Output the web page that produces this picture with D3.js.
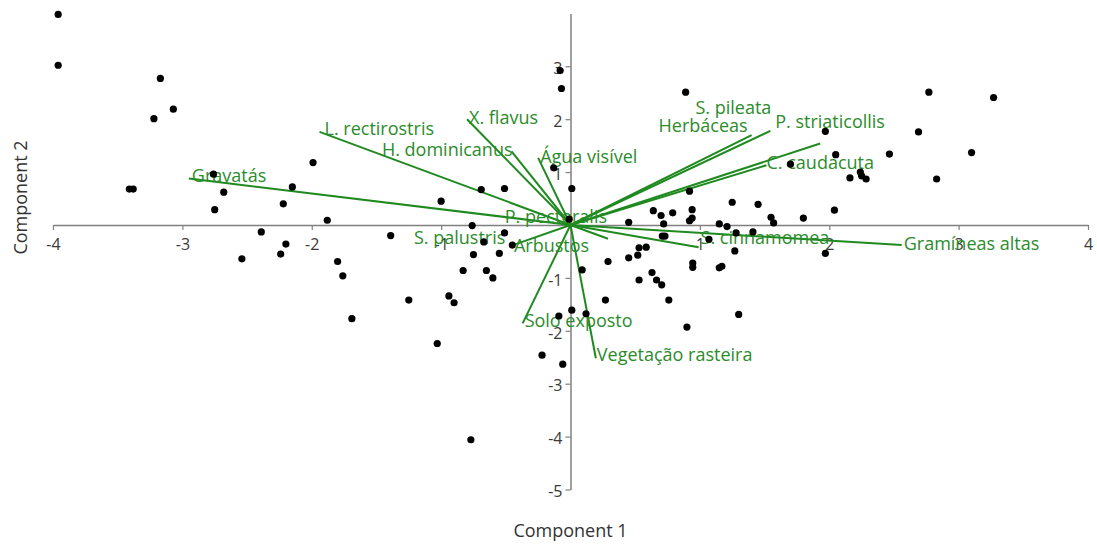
<!DOCTYPE html>
<html>
<head>
<meta charset="utf-8">
<script src="https://cdn.jsdelivr.net/npm/d3@7"></script>
<style>
  body { margin: 0; background: #fff; }
  svg { display: block; font-family: "Open Sans", "Noto Sans", sans-serif; }
</style>
</head>
<body>
<svg id="biplot" width="1097" height="545"></svg>
<script>
// PCA scores (component 1, component 2)
const scoresX = [
  -3.96, -3.96, -3.17, -3.07, -3.22, -3.41, -3.38, -2.76, -2.68, -2.75,
  -1.99, -2.15, -2.22, -1.88, -2.39, -2.20, -2.24, -2.54, -1.80, -1.76,
  -1.69, -1.25, -0.94, -0.90, -1.03, -0.77, -1.39, -1.00, -0.76, -0.69,
  -0.51, -0.51, -0.67, -0.45, -0.55, -0.75, -0.83, -0.65, -0.60,
  -0.08, -0.07, -0.13, 0.01, -0.01, 0.09, 0.01, -0.09, 0.12, -0.22, -0.06,
  0.45, 0.64, 0.70, 0.79, 0.72, 0.71, 0.73, 0.53, 0.585, 0.52,
  0.45, 0.29, 0.63, 0.53, 0.665, 0.705, 0.27, 0.76, 1.30, 0.90,
  0.945, 0.945, 1.15, 1.17, 1.07, 1.27, 1.97, 1.28, 1.41, 1.15, 1.21,
  0.89, 0.92, 0.94, 0.94, 0.92, 1.25, 1.45, 1.55, 1.57, 1.80,
  2.04, 1.70, 2.05, 2.465, 3.10, 2.16, 2.24, 2.25, 2.285, 2.83,
  1.97, 2.69, 2.77, 3.27
];
const scoresY = [
  3.98, 3.02, 2.77, 2.19, 2.01, 0.68, 0.68, 0.96, 0.62, 0.29,
  1.18, 0.72, 0.40, 0.09, -0.13, -0.36, -0.55, -0.64, -0.69, -0.96,
  -1.77, -1.42, -1.34, -1.47, -2.24, -4.06, -0.20, 0.45, -0.01, 0.67,
  0.69, -0.15, -0.32, -0.38, -0.535, -0.56, -0.86, -0.86, -1.00,
  2.92, 2.58, 1.08, 0.69, 0.11, -0.85, -1.61, -1.72, -1.68, -2.46, -2.63,
  0.05, 0.27, 0.18, 0.23, 0.02, -0.21, -0.21, -0.43, -0.42, -0.57,
  -0.62, -0.69, -0.90, -1.04, -1.04, -1.13, -1.42, -1.42, -1.69, -1.93,
  -0.72, -0.80, -0.81, -0.78, -0.27, -0.49, -0.535, -0.15, -0.13, 0.02, -0.03,
  2.51, 0.64, 0.29, 0.13, 0.08, 0.43, 0.39, 0.145, 0.04, 0.13,
  0.28, 1.15, 1.33, 1.34, 1.37, 0.89, 1.00, 0.93, 0.87, 0.87,
  1.77, 1.76, 2.51, 2.41
];

// loadings (biplot vectors)
const loadingNames = [
  'Gravatás', 'L. rectirostris', 'X. flavus', 'H. dominicanus', 'Água visível',
  'Herbáceas', 'S. pileata', 'P. striaticollis', 'C. caudacuta', 'P. pectoralis',
  'S. cinnamomea', 'Gramíneas altas', 'Arbustos', 'S. palustris',
  'Solo exposto', 'Vegetação rasteira'
];
const loadingX = [-2.95, -1.94, -0.80, -0.456, -0.25, 1.40, 1.545, 1.93, 1.515, 0.29,
  0.99, 2.56, -0.445, -0.04, -0.37, 0.196];
const loadingY = [0.88, 1.76, 2.00, 1.39, 1.27, 1.70, 1.78, 1.54, 1.13, -0.26,
  -0.42, -0.38, -0.38, -0.02, -1.86, -2.52];

const xTicks = [-4, -3, -2, -1, 1, 2, 3, 4];
const yTicks = [3, 2, 1, -1, -2, -3, -4, -5];
const xTitle = 'Component 1';
const yTitle = 'Component 2';

// label placement relative to vector tips (px)
const labelNudge = {
  'Gravatás': {dx: 3, dy: -3},
  'L. rectirostris': {dx: 5, dy: -4},
  'H. dominicanus': {dx: 1, dy: -2, anchor: 'end'},
  'Herbáceas': {dx: -4, dy: -10, anchor: 'end'},
  'S. pileata': {dx: 1, dy: -24, anchor: 'end'},
  'P. striaticollis': {dx: -45, dy: -23},
  'C. caudacuta': {dx: 0, dy: -3},
  'P. pectoralis': {dx: -1, dy: -23, anchor: 'end'},
  'S. cinnamomea': {dx: 2, dy: -10},
  'Arbustos': {dx: 1, dy: 0},
  'S. palustris': {dx: -60, dy: 11, anchor: 'end'},
  'Solo exposto': {dx: 2, dy: -3},
  'Vegetação rasteira': {dx: 1, dy: -4}
};

const green = '#1f8a1f';
const axisGrey = '#808080';

const svg = d3.select('#biplot');
const x = d3.scaleLinear().domain([-4, 4]).range([53, 1088]);
const y = d3.scaleLinear().domain([-5, 4]).range([489.5, 13.4]);

// axes crossing at the origin, plain hyphen for negatives
const fmt = d => String(d);
const xAxis = d3.axisBottom(x).tickValues(xTicks).tickFormat(fmt)
  .tickSize(5).tickSizeOuter(0).tickPadding(9);
const yAxis = d3.axisLeft(y).tickValues(yTicks).tickFormat(fmt)
  .tickSize(5).tickSizeOuter(0).tickPadding(3);

const gx = svg.append('g')
  .attr('transform', `translate(0,${y(0)})`)
  .call(xAxis);
const gy = svg.append('g')
  .attr('transform', `translate(${x(0)},0)`)
  .call(yAxis);

[gx, gy].forEach(g => {
  g.attr('font-family', null).attr('font-size', null);
  g.select('.domain').attr('stroke', axisGrey).attr('stroke-width', 1.5);
  g.selectAll('.tick line').attr('stroke', axisGrey).attr('stroke-width', 1.2);
  g.selectAll('.tick text').attr('fill', '#3a3a3a').style('font-size', '16px');
});
gy.selectAll('.tick text').attr('dy', '0.45em');

svg.append('text')
  .attr('x', x(0))
  .attr('y', 530)
  .attr('text-anchor', 'middle')
  .attr('dominant-baseline', 'central')
  .attr('fill', '#333')
  .style('font-size', '18px')
  .text(xTitle);

svg.append('text')
  .attr('transform', `translate(20,${y(0.52)}) rotate(-90)`)
  .attr('text-anchor', 'middle')
  .attr('dominant-baseline', 'central')
  .attr('fill', '#333')
  .style('font-size', '18px')
  .text(yTitle);

// vectors
const loadings = loadingNames.map((name, i) => ({name, lx: loadingX[i], ly: loadingY[i]}));

svg.append('g')
  .selectAll('line')
  .data(loadings)
  .join('line')
  .attr('x1', x(0))
  .attr('y1', y(0))
  .attr('x2', d => x(d.lx))
  .attr('y2', d => y(d.ly))
  .attr('stroke', green)
  .attr('stroke-width', 2);

svg.append('g')
  .selectAll('text')
  .data(loadings)
  .join('text')
  .attr('x', d => x(d.lx) + (labelNudge[d.name] ? labelNudge[d.name].dx : 2))
  .attr('y', d => y(d.ly) + (labelNudge[d.name] ? labelNudge[d.name].dy : -2))
  .attr('text-anchor', d => (labelNudge[d.name] && labelNudge[d.name].anchor) || 'start')
  .attr('dominant-baseline', 'central')
  .attr('fill', '#2b8c2b')
  .style('font-size', '18px')
  .text(d => d.name);

// scores on top
svg.append('g')
  .selectAll('circle')
  .data(scoresX.map((v, i) => [v, scoresY[i]]))
  .join('circle')
  .attr('cx', d => x(d[0]))
  .attr('cy', d => y(d[1]))
  .attr('r', 3.6)
  .attr('fill', '#000');
</script>
</body>
</html>
